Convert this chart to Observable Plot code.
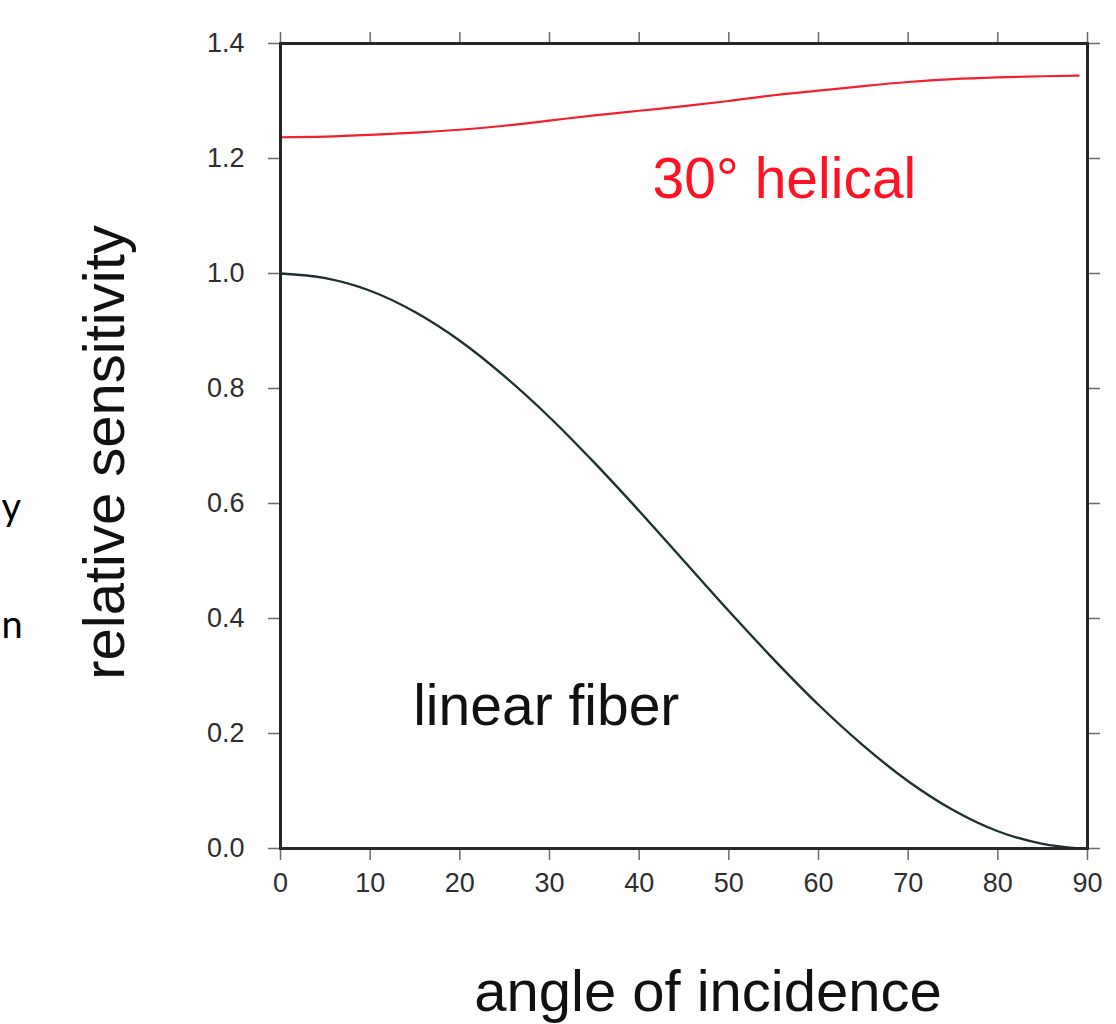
<!DOCTYPE html>
<html>
<head>
<meta charset="utf-8">
<script src="https://cdn.jsdelivr.net/npm/d3@7"></script>
<script src="https://cdn.jsdelivr.net/npm/@observablehq/plot@0.6"></script>
<style>
  html, body { margin: 0; padding: 0; background: #fff; }
  #chart svg { display: block; }
</style>
</head>
<body>
<div id="chart"></div>
<script>
// Data
const angle   = [0, 5, 10, 15, 20, 25, 30, 35, 40, 45, 50, 55, 60, 65, 70, 75, 80, 85, 89];
const linear  = [1.000, 0.992, 0.970, 0.933, 0.883, 0.821, 0.750, 0.671, 0.587, 0.500, 0.413, 0.329, 0.250, 0.179, 0.117, 0.067, 0.030, 0.008, 0.000];
const helical = [1.237, 1.238, 1.241, 1.245, 1.250, 1.257, 1.266, 1.275, 1.283, 1.291, 1.300, 1.310, 1.318, 1.326, 1.333, 1.338, 1.341, 1.343, 1.344];
const xTicks  = [0, 10, 20, 30, 40, 50, 60, 70, 80, 90];
const yTicks  = [0, 0.2, 0.4, 0.6, 0.8, 1.0, 1.2, 1.4];
const seriesNames = ["linear fiber", "30° helical"];
const xLabel = "angle of incidence";
const yLabel = "relative sensitivity";
const leftFragments = ["y", "n"];

const linearRows  = angle.map((a, i) => ({angle: a, value: linear[i]}));
const helicalRows = angle.map((a, i) => ({angle: a, value: helical[i]}));

const fmt = d3.format(".1f");
const tickStroke = "#6a6a6a";
const textFill = "#2e2e2e";

const chart = Plot.plot({
  width: 1116,
  height: 1024,
  marginLeft: 280,
  marginRight: 29,
  marginTop: 43,
  marginBottom: 176,
  style: {fontFamily: "'Liberation Sans', Arial, sans-serif", background: "#fff", overflow: "visible"},
  x: {domain: [0, 90]},
  y: {domain: [0, 1.4]},
  marks: [
    Plot.axisX({anchor: "bottom", ticks: xTicks, tickSize: 12, tickPadding: 12, fontSize: 27, stroke: tickStroke, strokeWidth: 1.5, fill: textFill, label: null}),
    Plot.axisX({anchor: "top", ticks: xTicks, tickSize: 12, tickFormat: () => "", stroke: tickStroke, strokeWidth: 1.5, label: null}),
    Plot.axisY({anchor: "left", ticks: yTicks, tickSize: 12, tickPadding: 24, tickFormat: fmt, fontSize: 27, stroke: tickStroke, strokeWidth: 1.5, fill: textFill, label: null}),
    Plot.axisY({anchor: "right", ticks: yTicks, tickSize: 12, tickFormat: () => "", stroke: tickStroke, strokeWidth: 1.5, label: null}),
    Plot.line(helicalRows, {x: "angle", y: "value", stroke: "#f41e2e", strokeWidth: 2.2, curve: "monotone-x"}),
    Plot.line(linearRows, {x: "angle", y: "value", stroke: "#1e3030", strokeWidth: 2.4, curve: "monotone-x"}),
    Plot.frame({stroke: "#262626", strokeWidth: 3}),
    Plot.text([seriesNames[1]], {x: 41.5, y: 1.132, text: d => d, textAnchor: "start", lineAnchor: "bottom", fontSize: 57, fill: "#ff1224"}),
    Plot.text([seriesNames[0]], {x: 14.8, y: 0.214, text: d => d, textAnchor: "start", lineAnchor: "bottom", fontSize: 57, fill: "#111"}),
    Plot.text([xLabel], {frameAnchor: "bottom", text: d => d, textAnchor: "middle", lineAnchor: "bottom", dx: 24, dy: 162, fontSize: 58, fill: "#111"}),
    Plot.text([yLabel], {frameAnchor: "left", text: d => d, textAnchor: "middle", rotate: -90, lineAnchor: "bottom", dx: -157, dy: 6.5, fontSize: 58, fill: "#111"}),
    Plot.text([leftFragments[0]], {frameAnchor: "left", text: d => d, textAnchor: "start", lineAnchor: "bottom", dx: -279, dy: 73.5, fontSize: 38, fill: "#000", fontFamily: "Lato, 'Open Sans', sans-serif"}),
    Plot.text([leftFragments[1]], {frameAnchor: "left", text: d => d, textAnchor: "start", lineAnchor: "bottom", dx: -279, dy: 191.5, fontSize: 38, fill: "#000", fontFamily: "Lato, 'Open Sans', sans-serif"})
  ]
});
document.getElementById("chart").appendChild(chart);
</script>
</body>
</html>
